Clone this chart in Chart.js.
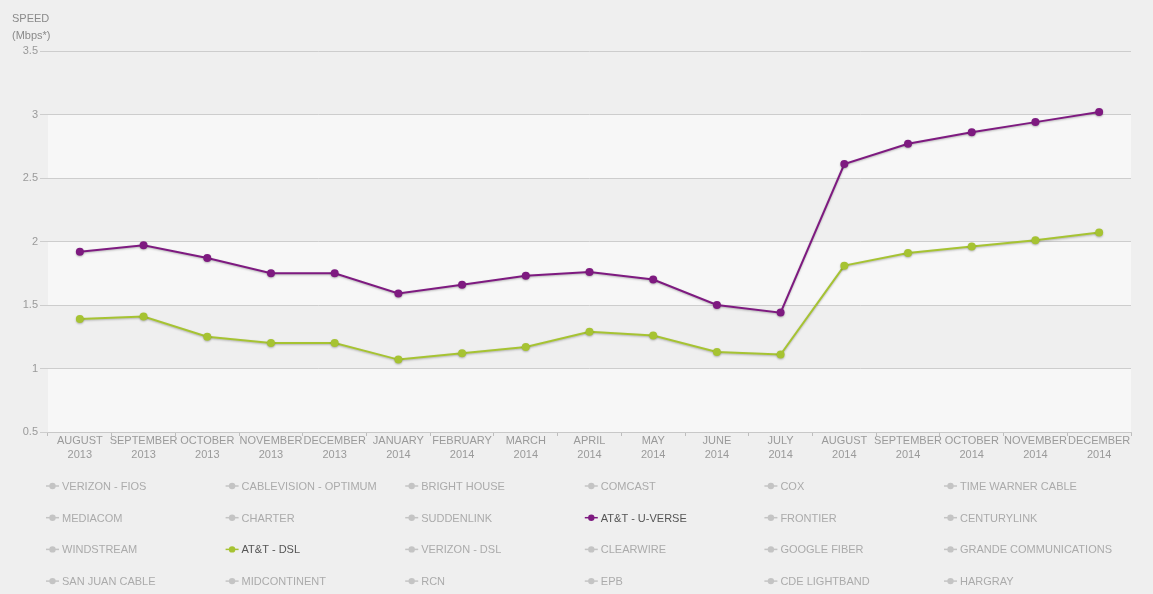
<!DOCTYPE html>
<html>
<head>
<meta charset="utf-8">
<script src="https://cdn.jsdelivr.net/npm/chart.js@4"></script>
<style>
  html, body { margin: 0; padding: 0; background: #efefef; }
  canvas { display: block; }
</style>
</head>
<body>
<canvas id="speedChart" width="1153" height="594"></canvas>
<script>
const months = [
  ["AUGUST", "2013"], ["SEPTEMBER", "2013"], ["OCTOBER", "2013"], ["NOVEMBER", "2013"],
  ["DECEMBER", "2013"], ["JANUARY", "2014"], ["FEBRUARY", "2014"], ["MARCH", "2014"],
  ["APRIL", "2014"], ["MAY", "2014"], ["JUNE", "2014"], ["JULY", "2014"],
  ["AUGUST", "2014"], ["SEPTEMBER", "2014"], ["OCTOBER", "2014"], ["NOVEMBER", "2014"],
  ["DECEMBER", "2014"]
];

const uverseSpeed = [1.92, 1.97, 1.87, 1.75, 1.75, 1.59, 1.66, 1.73, 1.76, 1.70, 1.50, 1.44,
  2.61, 2.77, 2.86, 2.94, 3.02];
const dslSpeed = [1.39, 1.41, 1.25, 1.20, 1.20, 1.07, 1.12, 1.17, 1.29, 1.26, 1.13, 1.11,
  1.81, 1.91, 1.96, 2.01, 2.07];

const providers = [
  "VERIZON - FIOS", "CABLEVISION - OPTIMUM", "BRIGHT HOUSE", "COMCAST", "COX", "TIME WARNER CABLE",
  "MEDIACOM", "CHARTER", "SUDDENLINK", "AT&T - U-VERSE", "FRONTIER", "CENTURYLINK",
  "WINDSTREAM", "AT&T - DSL", "VERIZON - DSL", "CLEARWIRE", "GOOGLE FIBER", "GRANDE COMMUNICATIONS",
  "SAN JUAN CABLE", "MIDCONTINENT", "RCN", "EPB", "CDE LIGHTBAND", "HARGRAY"
];

const yTicks = [0.5, 1, 1.5, 2, 2.5, 3, 3.5];

const PURPLE = "#7e1a80";
const GREEN = "#a6c332";
const FONT = "'Liberation Sans', Arial, sans-serif";

const active = {
  "AT&T - U-VERSE": { data: uverseSpeed, color: PURPLE },
  "AT&T - DSL": { data: dslSpeed, color: GREEN }
};

const datasets = providers.map(name => {
  const a = active[name];
  return {
    label: name,
    data: a ? a.data : [],
    borderColor: a ? a.color : "#bbbbbb",
    backgroundColor: a ? a.color : "#bbbbbb",
    borderWidth: 2,
    pointRadius: 4,
    pointBorderWidth: 0,
    tension: 0
  };
});

// alternating horizontal bands behind the plot
const bands = {
  id: "bands",
  beforeDraw(chart) {
    const { ctx, chartArea: a, scales: { y } } = chart;
    ctx.save();
    ctx.fillStyle = "#f7f7f7";
    for (let i = 0; i < yTicks.length - 1; i++) {
      if (i % 2 === 0) {
        const top = y.getPixelForValue(yTicks[i + 1]);
        const bot = y.getPixelForValue(yTicks[i]);
        ctx.fillRect(a.left, top, a.right - a.left, bot - top);
      }
    }
    ctx.restore();
  }
};

const lineShadow = {
  id: "lineShadow",
  beforeDatasetDraw(chart) {
    const ctx = chart.ctx;
    ctx.save();
    ctx.shadowColor = "rgba(0,0,0,0.25)";
    ctx.shadowBlur = 2;
    ctx.shadowOffsetY = 1;
  },
  afterDatasetDraw(chart) {
    chart.ctx.restore();
  }
};

// axis title + grid legend
const extras = {
  id: "extras",
  afterDraw(chart) {
    const ctx = chart.ctx;
    ctx.save();
    ctx.font = "11px " + FONT;
    ctx.fillStyle = "#8a8a8a";
    ctx.textBaseline = "alphabetic";
    ctx.textAlign = "left";
    ctx.fillText("SPEED", 12, 22);
    ctx.fillText("(Mbps*)", 12, 39);

    ctx.textBaseline = "middle";
    chart.data.datasets.forEach((ds, i) => {
      const col = i % 6, row = Math.floor(i / 6);
      const x = 46 + col * 179.6;
      const y = 486 + row * 31.7;
      const on = ds.data.length > 0;
      ctx.strokeStyle = on ? ds.borderColor : "#c4c4c4";
      ctx.fillStyle = on ? ds.borderColor : "#c4c4c4";
      ctx.lineWidth = 1.5;
      ctx.beginPath();
      ctx.moveTo(x, y);
      ctx.lineTo(x + 13, y);
      ctx.stroke();
      ctx.beginPath();
      ctx.arc(x + 6.5, y, 3.2, 0, Math.PI * 2);
      ctx.fill();
      ctx.fillStyle = on ? "#555555" : "#ababab";
      ctx.fillText(ds.label, x + 16, y + 1);
    });
    ctx.restore();
  }
};

new Chart(document.getElementById("speedChart"), {
  type: "line",
  data: { labels: months, datasets: datasets },
  options: {
    responsive: false,
    animation: false,
    devicePixelRatio: 1,
    layout: { padding: { top: 51, right: 22, bottom: 122, left: 0 } },
    plugins: {
      legend: { display: false },
      tooltip: { enabled: false }
    },
    scales: {
      x: {
        offset: true,
        grid: {
          offset: true,
          drawOnChartArea: false,
          color: "#bdbdbd",
          tickLength: 4
        },
        border: { color: "#c8c8c8" },
        ticks: {
          color: "#9a9a9a",
          font: { family: FONT, size: 11, lineHeight: 1.3 },
          padding: -2,
          maxRotation: 0,
          autoSkip: false
        },
        afterFit(scale) { scale.height = 40; }
      },
      y: {
        min: 0.5,
        max: 3.5,
        grid: { color: "#cdcdcd", tickLength: 8 },
        border: { display: false },
        ticks: {
          stepSize: 0.5,
          color: "#9a9a9a",
          font: { family: FONT, size: 11 },
          padding: 2,
          callback: v => String(v)
        },
        afterFit(scale) { scale.width = 48; }
      }
    }
  },
  plugins: [bands, lineShadow, extras]
});
</script>
</body>
</html>
